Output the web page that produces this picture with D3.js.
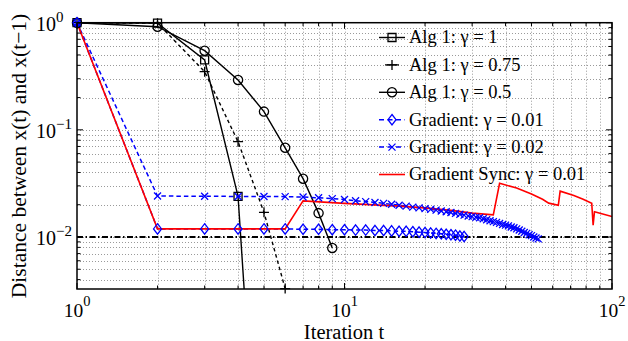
<!DOCTYPE html>
<html><head><meta charset="utf-8">
<script src="https://cdn.jsdelivr.net/npm/d3@7"></script>
<style>
body{margin:0;background:#fff}
svg{display:block}
</style>
</head><body>
<svg id="c" width="628" height="341"></svg>
<script>
// ---------------- data ----------------
const alg1G1T   = [1, 2, 3, 4, 5];
const alg1G1V   = [1.0, 0.99, 0.449, 0.0239, 5e-6];
const alg1G075T = [1, 2, 3, 4, 5, 6];
const alg1G075V = [1.0, 0.99, 0.349, 0.0775, 0.017, 0.0033];
const alg1G05T  = [1, 2, 3, 4, 5, 6, 7, 8, 9];
const alg1G05V  = [1.0, 0.918, 0.548, 0.292, 0.148, 0.068, 0.035, 0.0167, 0.0079];
const grad001V  = [1.0, 0.0119,0.0119,0.0119,0.0119,0.0119, 0.0118,0.0118,0.0117,0.0117,
                   0.0116,0.0116,0.0115,0.0115,0.0114, 0.0113,0.0113,0.0112,0.0111,0.0110,
                   0.0109,0.0108,0.0107,0.0106,0.0105, 0.0104,0.0102,0.0101];
const grad002V  = [1.0, 0.0241,0.0240,0.0239,0.0239,0.0238,0.0236,0.0232,0.0228,0.0224,
                   0.0218,0.0214,0.0210,0.0206,0.0202,0.0198,0.0194,0.0190,0.0187,0.0184,
                   0.0181,0.0178,0.0175,0.0172,0.0169,0.0166,0.0163,0.0160,0.0157,0.0155,
                   0.0153,0.0151,0.0148,0.0145,0.0142,0.0139,0.0137,0.0134,0.0131,0.0129,
                   0.0127,0.0124,0.0122,0.0119,0.0116,0.0113,0.0110,0.0108,0.0105,0.0103,
                   0.0100,0.0098,0.0096];
const syncT = [1, 2, 6, 7, 10, 16, 20, 25, 30, 36, 38, 44, 50, 55, 58, 63, 64, 72, 78, 84, 85, 86, 100];
const syncV = [1.0, 0.0119, 0.0119, 0.0217, 0.0206, 0.0194, 0.0187, 0.0177, 0.0167, 0.0161,
               0.0317, 0.0286, 0.0252, 0.0225, 0.0207, 0.0198, 0.0268, 0.0244, 0.0225, 0.0206,
               0.0129, 0.0172, 0.0155];
const threshold = 0.01;
const xMajor = [1, 10, 100];
const xMajorExp = ["0", "1", "2"];
const yMajor = [1, 0.1, 0.01];
const yMajorExp = ["0", "\u22121", "\u22122"];
const legendLabels = ["Alg 1: \u03b3 = 1", "Alg 1: \u03b3 = 0.75", "Alg 1: \u03b3 = 0.5",
                      "Gradient: \u03b3 = 0.01", "Gradient: \u03b3 = 0.02", "Gradient Sync: \u03b3 = 0.01"];
const xLabel = "Iteration t";
const yLabel = "Distance between x(t) and x(t\u22121)";

// ---------------- font pick ----------------
function pickFont(cands) {
  const c = document.createElement("canvas").getContext("2d");
  const s = "Gradient Sync: 0.01 Iteration";
  for (const f of cands) {
    c.font = "20px monospace"; const w0 = c.measureText(s).width;
    c.font = `20px "${f}", monospace`; const w1 = c.measureText(s).width;
    if (Math.abs(w1 - w0) > 0.5) return f;
  }
  return "serif";
}
const FONT = pickFont(["Liberation Serif", "Times New Roman", "Tinos", "Nimbus Roman", "Nimbus Roman No9 L", "Times", "DejaVu Serif"]);

// ---------------- layout ----------------
const L = 77, R = 612, T = 22.7, B = 289;
const svg = d3.select("#c").attr("font-family", `"${FONT}", serif`);
const x = d3.scaleLog().domain([1, 100]).range([L, R]);
const y = d3.scaleLog().domain([0.00327, 1]).range([B, T]);

svg.append("defs").append("clipPath").attr("id", "clip")
  .append("rect").attr("x", L).attr("y", T).attr("width", R - L).attr("height", B - T);

// grid
const gridC = "#9a9a9a";
const gx = x.ticks().filter(v => v > 1 && v < 100);
const gy = y.ticks().filter(v => v > y.domain()[0] && v < 1);
svg.append("g").selectAll("line").data(gx).join("line")
  .attr("x1", d => Math.round(x(d)) + 0.5).attr("x2", d => Math.round(x(d)) + 0.5)
  .attr("y1", T).attr("y2", B)
  .attr("stroke", gridC).attr("stroke-width", 1).attr("stroke-dasharray", "1,2");
svg.append("g").selectAll("line").data(gy).join("line")
  .attr("y1", d => Math.round(y(d)) + 0.5).attr("y2", d => Math.round(y(d)) + 0.5)
  .attr("x1", L).attr("x2", R)
  .attr("stroke", gridC).attr("stroke-width", 1).attr("stroke-dasharray", "1,2");

// marker path generators
function mk(type, s) {
  switch (type) {
    case "square": return `M${-s},${-s}H${s}V${s}H${-s}Z`;
    case "plus": return `M${-s},0H${s}M0,${-s}V${s}`;
    case "circle": return `M${s},0A${s},${s} 0 1,1 ${-s},0A${s},${s} 0 1,1 ${s},0`;
    case "diamond": return `M0,${-s * 1.3}L${s},0L0,${s * 1.3}L${-s},0Z`;
    case "x": return `M${-s},${-s}L${s},${s}M${-s},${s}L${s},${-s}`;
  }
}

const series = [
  {t: alg1G1T, v: alg1G1V, color: "#000", dash: null, marker: "square", ms: 4, lw: 1.4},
  {t: alg1G075T, v: alg1G075V, color: "#000", dash: "3.5,3", marker: "plus", ms: 5, lw: 1.4},
  {t: alg1G05T, v: alg1G05V, color: "#000", dash: null, marker: "circle", ms: 4.6, lw: 1.4},
  {t: d3.range(1, grad001V.length + 1), v: grad001V, color: "#0000ff", dash: "4.5,3", marker: "diamond", ms: 4, lw: 1.5},
  {t: d3.range(1, grad002V.length + 1), v: grad002V, color: "#0000ff", dash: "4.5,3", marker: "x", ms: 3.5, lw: 1.5},
  {t: syncT, v: syncV, color: "#ff0000", dash: null, marker: null, ms: 0, lw: 1.6}
];

// threshold line
svg.append("line")
  .attr("x1", x(1)).attr("x2", x(100)).attr("y1", y(threshold)).attr("y2", y(threshold))
  .attr("stroke", "#000").attr("stroke-width", 1.8).attr("stroke-dasharray", "6,2.5,1.5,2.5");

const line = d3.line().x(d => x(d[0])).y(d => y(d[1]));
const plot = svg.append("g").attr("clip-path", "url(#clip)");
series.forEach(s => {
  const pts = s.t.map((t, i) => [t, s.v[i]]);
  plot.append("path").datum(pts).attr("d", line)
    .attr("fill", "none").attr("stroke", s.color).attr("stroke-width", s.lw)
    .attr("stroke-dasharray", s.dash);
  if (s.marker) {
    svg.append("g").selectAll("path").data(pts.filter(p => p[1] >= y.domain()[0] * 0.98)).join("path")
      .attr("transform", p => `translate(${x(p[0])},${Math.min(y(p[1]), B)})`)
      .attr("d", mk(s.marker, s.ms))
      .attr("fill", "none").attr("stroke", s.color).attr("stroke-width", 1.3);
  }
});

// frame
svg.append("rect").attr("x", L).attr("y", T).attr("width", R - L).attr("height", B - T)
  .attr("fill", "none").attr("stroke", "#000").attr("stroke-width", 1.5);

// ticks (inside, all four sides)
const tickG = svg.append("g");
const xMinor = gx.filter(v => !xMajor.includes(v));
const yMinor = gy.filter(v => !yMajor.includes(v));
function xt(vals, len) {
  vals.forEach(v => {
    tickG.append("line").attr("x1", x(v)).attr("x2", x(v)).attr("y1", B).attr("y2", B - len).attr("stroke", "#000").attr("stroke-width", 1);
    tickG.append("line").attr("x1", x(v)).attr("x2", x(v)).attr("y1", T).attr("y2", T + len).attr("stroke", "#000").attr("stroke-width", 1);
  });
}
function yt(vals, len) {
  vals.forEach(v => {
    tickG.append("line").attr("y1", y(v)).attr("y2", y(v)).attr("x1", L).attr("x2", L + len).attr("stroke", "#000").attr("stroke-width", 1);
    tickG.append("line").attr("y1", y(v)).attr("y2", y(v)).attr("x1", R).attr("x2", R - len).attr("stroke", "#000").attr("stroke-width", 1);
  });
}
xt(xMajor, 6); xt(xMinor, 3.5); yt(yMajor, 6); yt(yMinor, 3.5);

// tick labels
xMajor.forEach((v, i) => {
  const t = svg.append("text").attr("x", x(v)).attr("y", 316.5).attr("text-anchor", "middle").attr("font-size", 19.5);
  t.append("tspan").text("10");
  t.append("tspan").attr("dy", -10.5).attr("font-size", 14.5).text(xMajorExp[i]);
});
yMajor.forEach((v, i) => {
  const t = svg.append("text").attr("x", 36).attr("y", y(v) + 8).attr("font-size", 20);
  t.append("tspan").text("10");
  t.append("tspan").attr("dy", -9).attr("font-size", 15).text(yMajorExp[i]);
});

// axis labels
svg.append("text").attr("x", 344).attr("y", 338.5).attr("text-anchor", "middle").attr("font-size", 20.5).text(xLabel);
svg.append("text").attr("transform", "translate(26,156) rotate(-90)").attr("text-anchor", "middle").attr("font-size", 21.5).text(yLabel);

// legend
const lg = svg.append("g");
series.forEach((s, i) => {
  const cy = 37.5 + i * 27.4;
  lg.append("line").attr("x1", 379).attr("x2", 405).attr("y1", cy).attr("y2", cy)
    .attr("stroke", s.color).attr("stroke-width", s.lw).attr("stroke-dasharray", s.dash ? (s.color === "#000" ? "0,6,14,6" : "5,3.5") : null);
  if (s.marker) {
    lg.append("path").attr("transform", `translate(392,${cy})`).attr("d", mk(s.marker, s.ms))
      .attr("fill", "none").attr("stroke", s.color).attr("stroke-width", 1.3);
  }
  lg.append("text").attr("x", 409).attr("y", cy + 5.8).attr("font-size", 18.5).text(legendLabels[i]);
});
</script>
</body></html>
